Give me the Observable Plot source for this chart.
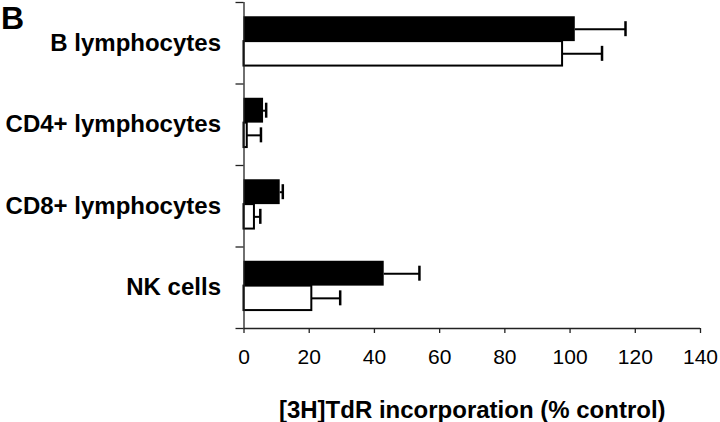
<!DOCTYPE html>
<html>
<head>
<meta charset="utf-8">
<script src="https://cdn.jsdelivr.net/npm/d3@7"></script>
<script src="https://cdn.jsdelivr.net/npm/@observablehq/plot@0.6"></script>
<style>
  html, body { margin: 0; padding: 0; background: #fff; }
  #wrap { position: relative; width: 720px; height: 422px; font-family: "Liberation Sans", Arial, sans-serif; }
  #panel { position: absolute; left: 1px; top: 0px; font-size: 32px; line-height: normal; font-weight: bold; color: #000; }
</style>
</head>
<body>
<div id="wrap"><div id="panel">B</div></div>
<script>
// ---- data ----
const categories = ["B lymphocytes", "CD4+ lymphocytes", "CD8+ lymphocytes", "NK cells"];
const treatedValues = [101.6, 6.0, 11.1, 43.0];   // black bars
const treatedErrors = [15.4, 0.8, 0.8, 10.8];
const controlValues = [97.7, 1.0, 3.2, 20.8];    // white bars
const controlErrors = [12.1, 4.2, 1.8, 8.7];
const xTicks = [0, 20, 40, 60, 80, 100, 120, 140];
const xLabel = "[3H]TdR incorporation (% control)";

// ---- layout (fraction of each category band) ----
const slots = {treated: [0.175, 0.48], control: [0.48, 0.78]};

const rows = [];
categories.forEach((c, i) => {
  rows.push({cat: c, i, series: "treated", value: treatedValues[i], err: treatedErrors[i]});
  rows.push({cat: c, i, series: "control", value: controlValues[i], err: controlErrors[i]});
});
const y1 = d => d.i + slots[d.series][0];
const y2 = d => d.i + slots[d.series][1];
const yc = d => d.i + (slots[d.series][0] + slots[d.series][1]) / 2;
const capHalf = 0.092;

const chart = Plot.plot({
  width: 720,
  height: 422,
  marginLeft: 243.5,
  marginRight: 20,
  marginTop: 2,
  marginBottom: 94,
  style: {fontFamily: "'Liberation Sans', Arial, sans-serif", background: "#fff", color: "#000"},
  x: {domain: [0, 140]},
  y: {domain: [0, categories.length], reverse: true},
  marks: [
    // error bar stems and caps
    Plot.ruleY(rows, {y: yc, x1: "value", x2: d => d.value + d.err, stroke: "#000", strokeWidth: 2}),
    Plot.ruleX(rows, {x: d => d.value + d.err, y1: d => yc(d) - capHalf, y2: d => yc(d) + capHalf, stroke: "#000", strokeWidth: 2.5}),
    // bars
    Plot.rectX(rows.filter(d => d.series === "control"), {x1: 0, x2: "value", y1, y2, fill: "#fff", stroke: "#000", strokeWidth: 2}),
    Plot.rectX(rows.filter(d => d.series === "treated"), {x1: 0, x2: "value", y1, y2, fill: "#000"}),
    // axis lines
    Plot.ruleX([0], {stroke: "#222", strokeWidth: 1.3}),
    Plot.ruleY([categories.length], {stroke: "#222", strokeWidth: 1.3}),
    // y axis: boundary ticks and category labels
    Plot.axisY(d3.range(categories.length + 1), {tickSize: 8, tickFormat: () => "", stroke: "#222", strokeWidth: 1.3, label: null}),
    Plot.axisY(categories.map((c, i) => i + 0.5), {tickSize: 0, tickPadding: 23, tickFormat: d => categories[Math.floor(d)], fontSize: 24, fontWeight: "bold", fill: "#000", label: null}),
    // x axis
    Plot.axisX(xTicks, {tickSize: 5, tickPadding: 16, fontSize: 21, fill: "#000", stroke: "#222", strokeWidth: 1.3, label: null}),
    Plot.axisX({ticks: [], tickSize: 0, label: xLabel, labelAnchor: "center", labelArrow: "none", labelOffset: 89, fontSize: 24, fontWeight: "bold", fill: "#000"})
  ]
});
document.getElementById("wrap").prepend(chart);
</script>
</body>
</html>
